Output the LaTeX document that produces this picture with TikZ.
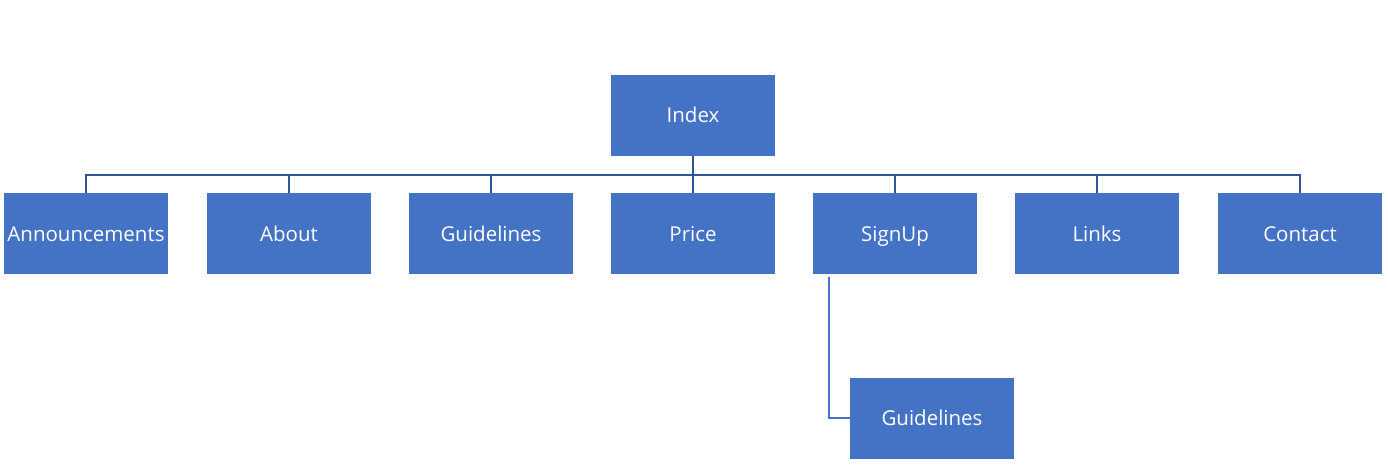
\documentclass[tikz,border=0pt]{standalone}
\usepackage{fontspec}
\setmainfont{Open Sans}
\definecolor{boxblue}{RGB}{68,114,196}
\definecolor{linedark}{RGB}{47,85,151}
\begin{document}
\begin{tikzpicture}[x=1pt,y=-1pt,
  box/.style={rectangle,fill=boxblue,minimum width=164pt,minimum height=81pt,inner sep=0pt,text=white,text height=1.75em,text depth=0.22em,font=\fontsize{20.5}{24}\selectfont},
  bus/.style={draw=linedark,line width=2.4pt},
  sub/.style={draw=boxblue,line width=2.2pt}]
\useasboundingbox (0,0) rectangle (1388,467);
\node[box] (idx) at (693,115) {Index};
\node[box] (a1) at (86,233.5) {Announcements};
\node[box] (a2) at (289,233.5) {About};
\node[box] (a3) at (491,233.5) {Guidelines};
\node[box] (a4) at (693,233.5) {Price};
\node[box] (a5) at (895,233.5) {SignUp};
\node[box] (a6) at (1097,233.5) {Links};
\node[box] (a7) at (1300,233.5) {Contact};
\node[box] (ch) at (932,418) {Guidelines};
\foreach \n in {a1,a2,a3,a4,a5,a6,a7}
  \draw[bus] (idx.south) -- ++(0,19) -| (\n.north);
\coordinate (s) at ([xshift=16pt,yshift=-3pt]a5.south west);
\draw[sub] (s) |- (ch.west);
\end{tikzpicture}
\end{document}
